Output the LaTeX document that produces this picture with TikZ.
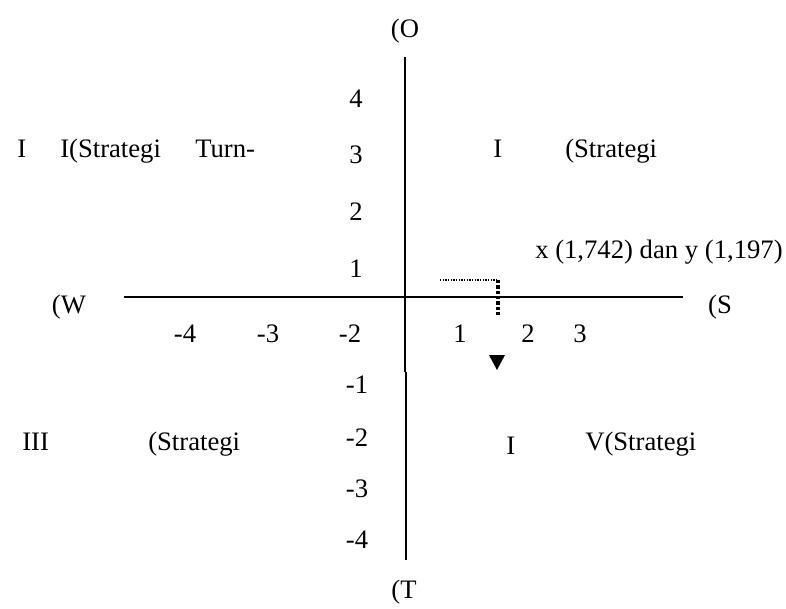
\documentclass[tikz,border=0pt]{standalone}
\usepackage{fontspec}
\setmainfont{Liberation Serif}
\begin{document}
\begin{tikzpicture}[x=0.75pt,y=-0.75pt,
  lbl/.style={inner sep=0pt,anchor=base,font=\fontsize{20}{24}\selectfont},
  lblw/.style={lbl,anchor=base west},
  axisline/.style={line width=1.5pt,line cap=butt},
  thindot/.style={line width=1pt,dash pattern=on 1pt off 1pt},
  thickdot/.style={line width=2.4pt,dash pattern=on 2.4pt off 1.6pt}]
\useasboundingbox (0,0) rectangle (786,608);
% axes
\coordinate (ytop) at (404.5,57);
\coordinate (ymid) at (404.5,372);
\coordinate (ymid2) at (406,372);
\coordinate (ybot) at (406,560);
\coordinate (xl) at (124,296.5);
\coordinate (xr) at (683,296.5);
\draw[axisline] (ytop) -- (ymid);
\draw[axisline] (ymid2) -- (ybot);
\draw[axisline] (xl) -- (xr);
% axis ends
\node[lbl] (O) at (405,37) {(O};
\node[lbl] (T) at (404,598) {(T};
\node[lbl] (W) at (69,313) {(W};
\node[lbl] (S) at (720,313) {(S};
% y ticks
\node[lbl] (y4) at (356,107) {4};
\node[lbl] (y3) at (356,163) {3};
\node[lbl] (y2) at (356,220) {2};
\node[lbl] (y1) at (356,277) {1};
\node[lbl] (ym1) at (357,393) {-1};
\node[lbl] (ym2) at (357,446) {-2};
\node[lbl] (ym3) at (357,497) {-3};
\node[lbl] (ym4) at (357,548) {-4};
% x ticks
\node[lbl] (xm4) at (185,342) {-4};
\node[lbl] (xm3) at (268,342) {-3};
\node[lbl] (xm2) at (350,342) {-2};
\node[lbl] (x1) at (460,342) {1};
\node[lbl] (x2) at (528,342) {2};
\node[lbl] (x3) at (580,342) {3};
% quadrant labels
\node[lblw] (q2a) at (17,157) {I};
\node[lblw] (q2b) at (60,157) {I(Strategi};
\node[lblw] (q2c) at (195,157) {Turn-};
\node[lblw] (q1a) at (493,157) {I};
\node[lblw] (q1b) at (565,157) {(Strategi};
\node[lblw] (q3a) at (22,450) {III};
\node[lblw] (q3b) at (148,450) {(Strategi};
\node[lblw] (q4a) at (506,454) {I};
\node[lblw] (q4b) at (585,450) {V(Strategi};
\node[lblw] (pt) at (535,258) {x (1,742) dan y (1,197)};
% point marker
\coordinate (d1) at (440,280);
\coordinate (d2) at (498,280);
\coordinate (d3) at (498,316);
\draw[thindot] (d1) -- (d2);
\draw[thickdot] (d2) -- (d3);
\fill (489,355) -- (505,355) -- (497,370) -- cycle;
\end{tikzpicture}
\end{document}
